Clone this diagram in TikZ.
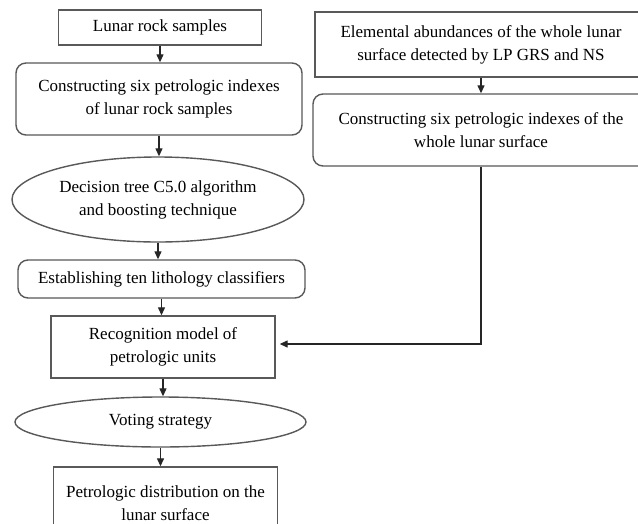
\documentclass[tikz,border=0pt]{standalone}
\usepackage{fontspec}
\setmainfont{Liberation Serif}
\usetikzlibrary{shapes.geometric,arrows.meta}
\begin{document}
\begin{tikzpicture}[x=1pt,y=-1pt,
  every node/.style={font=\fontsize{17}{23}\selectfont, align=center, inner sep=0pt, line width=1.4pt, draw=black!65},
  sqbox/.style={rectangle},
  rbox/.style={rectangle, rounded corners=10pt},
  ebox/.style={ellipse},
  arr/.style={line width=1.3pt, black!85, -{Triangle[length=8pt,width=7pt]}}]
\useasboundingbox (0,0) rectangle (638,523);
\clip (0,0) rectangle (638,523);
\fill[white] (0,0) rectangle (638,523);
\node[sqbox, minimum width=203pt, minimum height=35pt] (n1) at (160,27.5) {Lunar rock samples};
\node[rbox, minimum width=286pt, minimum height=72pt] (n2) at (159,99) {Constructing six petrologic indexes\\of lunar rock samples};
\node[ebox, minimum width=292pt, minimum height=85pt] (n3) at (158,199.5) {Decision tree C5.0 algorithm\\and boosting technique};
\node[rbox, minimum width=287pt, minimum height=38pt] (n4) at (161.5,279) {Establishing ten lithology classifiers};
\node[sqbox, minimum width=224pt, minimum height=62pt] (n5) at (163,347) {Recognition model of\\petrologic units};
\node[ebox, minimum width=291pt, minimum height=50pt] (n6) at (160.5,422) {Voting strategy};
\node[sqbox, minimum width=224pt, minimum height=73pt] (n7) at (165.5,503.5) {Petrologic distribution on the\\lunar surface};
\node[sqbox, minimum width=332pt, minimum height=65pt] (r1) at (481,44.5) {Elemental abundances of the whole lunar\\surface detected by LP GRS and NS};
\node[rbox, minimum width=336pt, minimum height=72pt] (r2) at (481,130) {Constructing six petrologic indexes of the\\whole lunar surface};
\draw[arr] (n1.south) -- (n1.south |- n2.north);
\draw[arr] (n2.south) -- (n2.south |- n3.north);
\draw[arr] (n3.south) -- (n3.south |- n4.north);
\draw[arr] (n4.south) -- (n4.south |- n5.north);
\draw[arr] (n5.south) -- (n5.south |- n6.north);
\draw[arr] (n6.south) -- (n6.south |- n7.north);
\draw[arr] (r1.south) -- (r2.north);
\coordinate (c1) at (r2.south |- 0,344);
\draw[arr] (r2.south) -- (c1) -- ([xshift=4pt]n5.east |- c1);
\end{tikzpicture}
\end{document}
